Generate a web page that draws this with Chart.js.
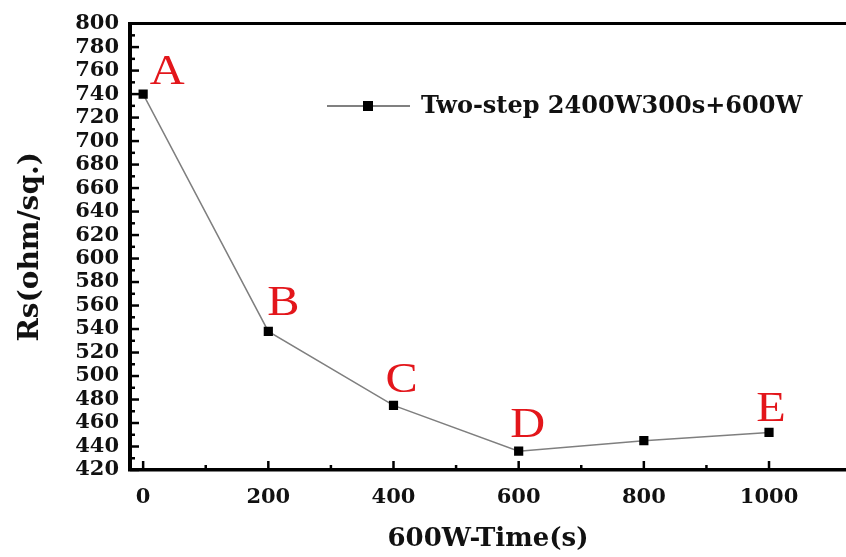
<!DOCTYPE html>
<html>
<head>
<meta charset="utf-8">
<script src="https://cdn.jsdelivr.net/npm/chart.js@4/dist/chart.umd.min.js"></script>
<style>
  html, body { margin: 0; padding: 0; background: #ffffff; overflow: hidden; }
  #wrap { width: 846px; height: 557px; position: relative; overflow: hidden; }
  #c { display: block; }
</style>
</head>
<body>
<div id="wrap"><canvas id="c" width="846" height="557"></canvas></div>
<script>
// ---- data ----
const seriesLabel = 'Two-step 2400W300s+600W';
const times = [0, 200, 400, 600, 800, 1000];
const rsValues = [740, 538, 475, 436, 445, 452];
const pointNames = ['A', 'B', 'C', 'D', '', 'E'];
const xTickValues = [0, 200, 400, 600, 800, 1000];
const yTickValues = [420, 440, 460, 480, 500, 520, 540, 560, 580, 600, 620, 640, 660, 680, 700, 720, 740, 760, 780, 800];
const xTitle = '600W-Time(s)';
const yTitle = 'Rs(ohm/sq.)';

// ---- styles ----
const labelOffsets = [[24, -10], [15, -16], [8, -13], [9, -14], null, [2, -11]];
const boldSerif = '"DejaVu Serif", serif';

const innerTicks = {
  id: 'innerTicks',
  afterDraw(chart) {
    const ctx = chart.ctx;
    const xs = chart.scales.x, ys = chart.scales.y;
    const ca = chart.chartArea;
    ctx.save();
    ctx.strokeStyle = '#000';
    // top frame line
    ctx.lineWidth = 3;
    ctx.beginPath();
    ctx.moveTo(ca.left - 2, ca.top);
    ctx.lineTo(ca.right, ca.top);
    ctx.stroke();
    ctx.lineWidth = 2.5;
    // x ticks
    for (let i = 0; i < xTickValues.length; i++) {
      const px = xs.getPixelForValue(xTickValues[i]);
      ctx.beginPath(); ctx.moveTo(px, ca.bottom); ctx.lineTo(px, ca.bottom - 9); ctx.stroke();
      if (i < xTickValues.length - 1) {
        const pm = xs.getPixelForValue((xTickValues[i] + xTickValues[i + 1]) / 2);
        ctx.beginPath(); ctx.moveTo(pm, ca.bottom); ctx.lineTo(pm, ca.bottom - 5); ctx.stroke();
      }
    }
    // y ticks
    for (let i = 0; i < yTickValues.length; i++) {
      const py = ys.getPixelForValue(yTickValues[i]);
      ctx.beginPath(); ctx.moveTo(ca.left, py); ctx.lineTo(ca.left + 9, py); ctx.stroke();
      if (i < yTickValues.length - 1) {
        const pm = ys.getPixelForValue((yTickValues[i] + yTickValues[i + 1]) / 2);
        ctx.beginPath(); ctx.moveTo(ca.left, pm); ctx.lineTo(ca.left + 5, pm); ctx.stroke();
      }
    }
    // point letters
    ctx.fillStyle = '#e3161b';
    ctx.font = '42px "Liberation Serif", serif';
    ctx.textAlign = 'center';
    ctx.textBaseline = 'alphabetic';
    for (let i = 0; i < times.length; i++) {
      if (!pointNames[i]) continue;
      const px = xs.getPixelForValue(times[i]) + labelOffsets[i][0];
      const py = ys.getPixelForValue(rsValues[i]) + labelOffsets[i][1];
      ctx.save();
      ctx.translate(px, py);
      ctx.scale(1.15, 1);
      ctx.fillText(pointNames[i], 0, 0);
      ctx.restore();
    }
    // legend
    const lx0 = 327, lx1 = 410, ly = 106;
    ctx.strokeStyle = '#808080';
    ctx.lineWidth = 2;
    ctx.beginPath(); ctx.moveTo(lx0, ly); ctx.lineTo(lx1, ly); ctx.stroke();
    ctx.fillStyle = '#000';
    ctx.fillRect(368 - 5, ly - 5, 10, 10);
    ctx.font = 'bold 24px ' + boldSerif;
    ctx.textAlign = 'left';
    ctx.fillStyle = '#111';
    ctx.fillText(chart.data.datasets[0].label, 421, 113);
    ctx.restore();
  }
};

new Chart(document.getElementById('c'), {
  type: 'line',
  data: {
    datasets: [{
      label: seriesLabel,
      data: times.map((t, i) => ({ x: t, y: rsValues[i] })),
      borderColor: '#7f7f7f',
      borderWidth: 1.5,
      tension: 0,
      pointStyle: 'rect',
      pointRadius: 6.5,
      pointHoverRadius: 6.5,
      pointBackgroundColor: '#000',
      pointBorderColor: '#000',
      pointBorderWidth: 0
    }]
  },
  options: {
    responsive: false,
    animation: false,
    events: [],
    layout: { autoPadding: false, padding: { top: 22, right: 0, left: 0, bottom: 0 } },
    plugins: { legend: { display: false }, tooltip: { enabled: false } },
    scales: {
      x: {
        type: 'linear',
        min: -21,
        max: 1123,
        afterBuildTicks: (s) => { s.ticks = xTickValues.map(v => ({ value: v })); },
        afterFit: (s) => { s.height = 87; },
        grid: { display: true, drawOnChartArea: false, drawTicks: false },
        border: { display: true, color: '#000', width: 3.5 },
        ticks: { color: '#111', padding: 15, autoSkip: false, maxRotation: 0, callback: (v) => String(v), font: { family: boldSerif, size: 21, weight: 'bold' } },
        title: { display: true, text: xTitle, color: '#111', padding: { top: 0, bottom: 2 }, font: { family: boldSerif, size: 26, weight: 'bold' } }
      },
      y: {
        min: 420,
        max: 800,
        afterBuildTicks: (s) => { s.ticks = yTickValues.map(v => ({ value: v })); },
        afterFit: (s) => { s.width = 130; },
        grid: { display: true, drawOnChartArea: false, drawTicks: false },
        border: { display: true, color: '#000', width: 4 },
        ticks: { color: '#111', padding: 11, autoSkip: false, callback: (v) => String(v), font: { family: boldSerif, size: 21, weight: 'bold' } },
        title: { display: true, text: yTitle, color: '#111', padding: { top: 14, bottom: 0 }, font: { family: boldSerif, size: 28, weight: 'bold' } }
      }
    }
  },
  plugins: [innerTicks]
});
</script>
</body>
</html>
